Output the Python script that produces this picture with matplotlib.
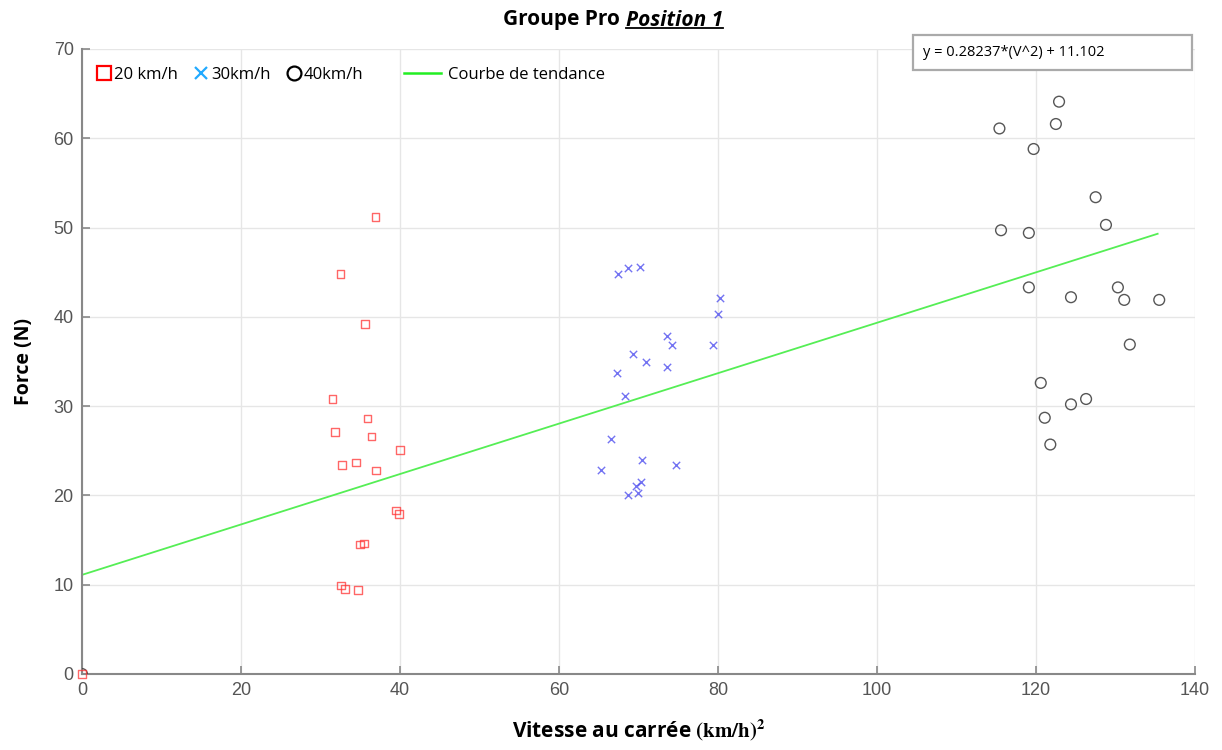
import numpy as np
import matplotlib
matplotlib.use("Agg")
import matplotlib.pyplot as plt
from matplotlib.lines import Line2D
from matplotlib.patches import Rectangle

# --- data ---
x20 = [0, 36.9, 32.5, 35.6, 31.5, 35.9, 31.8, 36.4, 40.0, 32.7, 34.5, 37.0,
       39.5, 39.9, 35.0, 35.5, 32.6, 33.1, 34.7]
y20 = [0, 51.2, 44.8, 39.2, 30.8, 28.6, 27.1, 26.6, 25.1, 23.4, 23.7, 22.8,
       18.3, 17.9, 14.5, 14.6, 9.9, 9.5, 9.4]

x30 = [67.4, 68.7, 70.2, 80.2, 80.0, 73.6, 74.2, 79.4, 69.3, 70.9, 73.6, 67.3,
       68.3, 66.6, 70.5, 74.7, 65.3, 70.3, 69.7, 68.7, 69.9]
y30 = [44.8, 45.5, 45.6, 42.1, 40.3, 37.8, 36.9, 36.8, 35.8, 34.9, 34.4, 33.7,
       31.1, 26.3, 24.0, 23.4, 22.8, 21.5, 21.1, 20.1, 20.3]

x40 = [0, 122.9, 115.4, 122.5, 119.7, 127.5, 128.8, 115.6, 119.1, 119.1, 124.4,
       130.3, 131.1, 135.5, 131.8, 120.6, 126.3, 124.4, 121.1, 121.8]
y40 = [0, 64.1, 61.1, 61.6, 58.8, 53.4, 50.3, 49.7, 49.4, 43.3, 42.2,
       43.3, 41.9, 41.9, 36.9, 32.6, 30.8, 30.2, 28.7, 25.7]

slope, intercept = 0.28237, 11.102
trend_x = [0, 135.3]

xticks = [0, 20, 40, 60, 80, 100, 120, 140]
yticks = [0, 10, 20, 30, 40, 50, 60, 70]

plt.rcParams['mathtext.fontset'] = 'stix'

W, H = 1222, 750
fig = plt.figure(figsize=(W / 100, H / 100), dpi=100)
ax = fig.add_axes([82 / W, 1 - 674 / H, (1195 - 82) / W, (674 - 49) / H])

tx = np.array(trend_x)
ax.plot(tx, slope * tx + intercept, color='#55ee55', lw=1.3, zorder=2)
ax.scatter(x20, y20, marker='s', s=30, facecolors='none', edgecolors='#ff3333',
           linewidths=1.0, alpha=0.75, zorder=4, clip_on=False)
ax.scatter(x30, y30, marker='x', s=28, color='#4444ee', linewidths=1.0,
           alpha=0.75, zorder=3)
ax.scatter(x40, y40, marker='o', s=60, facecolors='none', edgecolors='#444444',
           linewidths=1.0, alpha=0.9, zorder=3)

ax.set_xlim(0, 140)
ax.set_ylim(0, 70)
ax.set_xticks(xticks)
ax.set_yticks(yticks)
ax.grid(True, color='#e6e6e6', lw=1.0)
ax.set_axisbelow(True)
for s in ['top', 'right']:
    ax.spines[s].set_visible(False)
for s in ['left', 'bottom']:
    ax.spines[s].set_color('#888888')
    ax.spines[s].set_linewidth(1.5)
ax.tick_params(direction='in', length=6, width=1.2, color='#888888',
               labelcolor='#555555', labelsize=13, pad=6)
for lab in ax.get_xticklabels() + ax.get_yticklabels():
    lab.set_family(['Liberation Sans Narrow', 'Liberation Sans', 'DejaVu Sans'])

ax.set_ylabel('Force (N)', fontsize=14, fontweight='bold', family='Open Sans', labelpad=14)
ax.set_xlabel(r'Vitesse au carrée $\mathbf{(km/h)^2}$', fontsize=15,
              fontweight='bold', family='Open Sans', labelpad=13)

# legend: markers in one group, trend line in a second group with a longer handle
mark_handles = [
    Line2D([], [], marker='s', ls='none', ms=10, mfc='none', mec='red', mew=1.6),
    Line2D([], [], marker='x', ls='none', ms=8, color='#22aaff', mew=1.6),
    Line2D([], [], marker='o', ls='none', ms=10, mfc='none', mec='black', mew=1.6),
]
mark_labels = ['20 km/h', '30km/h', '40km/h']
leg1 = ax.legend(mark_handles, mark_labels, loc='upper left', ncol=3, frameon=False,
                 bbox_to_anchor=(0.0, 0.995), handlelength=0.8, handletextpad=0.2,
                 columnspacing=1.0, prop={'family': 'Open Sans', 'size': 12})
ax.add_artist(leg1)
ax.legend([Line2D([], [], color='#22ee22', lw=1.8)], ['Courbe de tendance'],
          loc='upper left', frameon=False, bbox_to_anchor=(0.276, 0.995),
          handlelength=2.2, handletextpad=0.45,
          prop={'family': 'Open Sans', 'size': 12})

# title: plain part + underlined italic part, centred on the axes
ty = 1 - 20 / H
t1 = fig.text(0, ty, 'Groupe Pro ', ha='left', va='center',
              fontsize=15, fontweight='bold', family='Open Sans')
t2 = fig.text(0, ty, 'Position 1', ha='left', va='center',
              fontsize=15, fontweight='bold', style='italic', family='Open Sans')
fig.canvas.draw()
r = fig.canvas.get_renderer()
w1 = t1.get_window_extent(r).width
w2 = t2.get_window_extent(r).width
x0 = 613 - (w1 + w2) / 2
t1.set_x(x0 / W)
t2.set_x((x0 + w1) / W)
fig.canvas.draw()
b2 = t2.get_window_extent(r)
yline = b2.y0 + 3
fig.add_artist(Line2D([b2.x0 / W, b2.x1 / W], [yline / H, yline / H],
                      color='black', lw=1.3))

# equation box
fig.add_artist(Rectangle((913 / W, 1 - 70 / H), (1192 - 913) / W, 35 / H,
                         transform=fig.transFigure, facecolor='white',
                         edgecolor='#aaaaaa', lw=1.6, zorder=5))
fig.text(923 / W, 1 - 53 / H, 'y = 0.28237*(V^2) + 11.102', ha='left',
         va='center', fontsize=10.5, family='Open Sans', zorder=6)

fig.savefig('out.png', dpi=100)
